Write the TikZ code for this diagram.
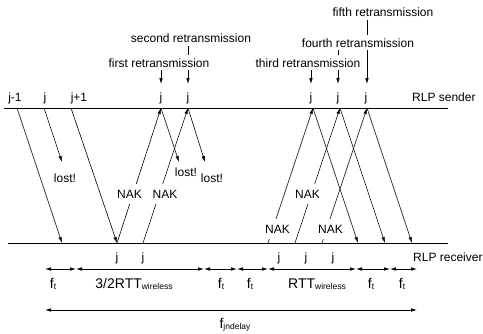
\documentclass[tikz,border=0pt]{standalone}
\usepackage{fontspec}
\setmainfont{Liberation Sans}
\usetikzlibrary{arrows.meta}

\newcommand{\lowsub}[1]{\raisebox{-1pt}{\fontsize{8.5}{9}\selectfont #1}}

\begin{document}
\begin{tikzpicture}[x=1pt,y=-1pt]
\tikzstyle{txt}=[font=\fontsize{12}{14}\selectfont, inner sep=1pt]
\tikzstyle{big}=[font=\fontsize{14}{16}\selectfont, inner sep=1pt]
\tikzstyle{hide}=[txt, fill=white, inner xsep=6pt, inner ysep=3pt]
\tikzstyle{nak}=[txt, fill=white, minimum height=20pt]
\tikzstyle{connect}=[-{Latex[length=6pt,width=3.5pt]}, line width=0.6pt]
\tikzstyle{span}=[{Latex[length=6pt,width=3.5pt]}-{Latex[length=6pt,width=3.5pt]}, line width=0.6pt]
\tikzstyle{axis}=[line width=0.9pt]

\useasboundingbox (0,0) rectangle (483,333);

% 1. Sender and receiver
%%%%%%%%%%%%%%%%%%%%%%%%
\coordinate (sl) at (4,108);
\coordinate (sr) at (448,108);
\coordinate (rl) at (8,243);
\coordinate (rr) at (448,243);
\draw[axis] (sl) -- (sr);
\draw[axis] (rl) -- (rr);
\node[txt, anchor=base west] (sender) at (411,101) {RLP sender};
\node[txt, anchor=base west] (receiver) at (412,261) {RLP receiver};

% 2. Frames
%%%%%%%%%%%
\coordinate (sjm) at (17,108);
\coordinate (sj)  at (44,108);
\coordinate (sjp) at (71,108);
\coordinate (s1)  at (161,108);
\coordinate (s2)  at (188,108);
\coordinate (s3)  at (313,108);
\coordinate (s4)  at (340,108);
\coordinate (s5)  at (367,108);

\coordinate (rjm) at (62,243);
\coordinate (rjp) at (117,243);
\coordinate (n2)  at (143,243);
\coordinate (n3)  at (268,243);
\coordinate (n4)  at (295,243);
\coordinate (n5)  at (322,243);
\coordinate (r3)  at (358,243);
\coordinate (r4)  at (385,243);
\coordinate (r5)  at (412,243);

\coordinate (lj) at (62,162);
\coordinate (l1) at (179,162);
\coordinate (l2) at (205,162);

\node[txt, anchor=base] (fjm) at (15,101) {j-1};
\node[txt, anchor=base] (fj)  at (45,101) {j};
\node[txt, anchor=base] (fjp) at (79,101) {j+1};
\node[txt, anchor=base] (f1)  at (161,101) {j};
\node[txt, anchor=base] (f2)  at (188,101) {j};
\node[txt, anchor=base] (f3)  at (311,101) {j};
\node[txt, anchor=base] (f4)  at (338,101) {j};
\node[txt, anchor=base] (f5)  at (366,101) {j};

\node[txt, anchor=base] (g1) at (117,261) {j};
\node[txt, anchor=base] (g2) at (143,261) {j};
\node[txt, anchor=base] (g3) at (279,261) {j};
\node[txt, anchor=base] (g4) at (306,261) {j};
\node[txt, anchor=base] (g5) at (333,261) {j};

% 3. Arrows
%%%%%%%%%%%
\path (sjm) edge [connect] (rjm)
      (sj)  edge [connect] (lj)
      (sjp) edge [connect] (rjp)
      (rjp) edge [connect] (s1)
      (n2)  edge [connect] (s2)
      (s1)  edge [connect] (l1)
      (s2)  edge [connect] (l2)
      (n3)  edge [connect] (s3)
      (n4)  edge [connect] (s4)
      (n5)  edge [connect] (s5)
      (s3)  edge [connect] (r3)
      (s4)  edge [connect] (r4)
      (s5)  edge [connect] (r5);

\node[txt] (lost0) at (65,178) {lost!};
\node[txt] (lost1) at (186,172) {lost!};
\node[txt] (lost2) at (212,178) {lost!};

\node[nak] (nak1) at (129.5,194) {NAK};
\node[nak] (nak2) at (165,194) {NAK};
\node[nak] (nak3) at (277.5,229) {NAK};
\node[nak] (nak4) at (307.5,194) {NAK};
\node[nak] (nak5) at (330.5,229) {NAK};

% 4. Retransmissions
%%%%%%%%%%%%%%%%%%%%
\coordinate (tip1) at (161,84);
\coordinate (tip2) at (188,84);
\coordinate (tip3) at (311,84);
\coordinate (tip4) at (338,84);
\coordinate (tip5) at (367,84);

\node[txt, anchor=base] (second) at (191,42) {second retransmission};
\node[txt, anchor=base] (fifth)  at (383,16) {fifth retransmission};
\coordinate (top4) at (338,50);

\draw[connect, shorten <=3pt] (second.south -| tip2) -- (tip2);
\draw[connect, shorten <=3pt] (fifth.south -| tip5) -- (tip5);
\draw[connect] (top4) -- (tip4);

\node[hide, anchor=base] (first)  at (159,67) {first retransmission};
\node[hide, anchor=base] (fourth) at (358,47) {fourth retransmission};
\node[hide, anchor=base] (third)  at (308,67) {third retransmission};

\draw[connect] (first.south -| tip1) -- (tip1);
\draw[connect] (third.south -| tip3) -- (tip3);

% 5. Delays
%%%%%%%%%%%
\coordinate (t0) at (45,269);
\coordinate (t1) at (76,269);
\coordinate (t2) at (204,269);
\coordinate (t3) at (237,269);
\coordinate (t4) at (268,269);
\coordinate (t5) at (356,269);
\coordinate (t6) at (390,269);
\coordinate (t7) at (417,269);
\coordinate (d0) at (45,310);
\coordinate (d1) at (417,310);

\draw[span] (t0) -- (t1);
\draw[span] (t1) -- (t2);
\draw[span] (t2) -- (t3);
\draw[span] (t3) -- (t4);
\draw[span] (t4) -- (t5);
\draw[span] (t5) -- (t6);
\draw[span] (t6) -- (t7);
\draw[span] (d0) -- (d1);

\node[big, anchor=base] (ft1) at (53,288)  {f\lowsub{t}};
\node[big, anchor=base] (rtt1) at (134,288) {3/2RTT\lowsub{wireless}};
\node[big, anchor=base] (ft2) at (221,288) {f\lowsub{t}};
\node[big, anchor=base] (ft3) at (250,288) {f\lowsub{t}};
\node[big, anchor=base] (rtt2) at (317,288) {RTT\lowsub{wireless}};
\node[big, anchor=base] (ft4) at (371,288) {f\lowsub{t}};
\node[big, anchor=base] (ft5) at (402,288) {f\lowsub{t}};
\node[big, anchor=base] (fdelay) at (235,328) {f\lowsub{jndelay}};

\end{tikzpicture}
\end{document}
